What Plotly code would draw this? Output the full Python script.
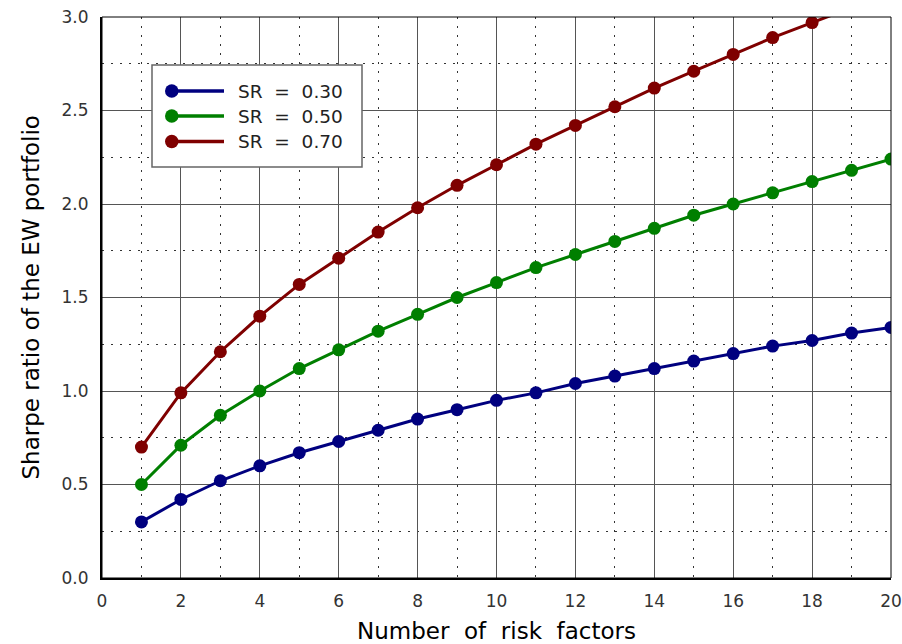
import plotly.graph_objects as go

# Number of risk factors held in the equal-weight portfolio
n_factors = list(range(1, 21))

# Sharpe ratio of the EW portfolio for each single-factor Sharpe ratio
sr_030 = [0.30, 0.42, 0.52, 0.60, 0.67, 0.73, 0.79, 0.85, 0.90, 0.95,
          0.99, 1.04, 1.08, 1.12, 1.16, 1.20, 1.24, 1.27, 1.31, 1.34]
sr_050 = [0.50, 0.71, 0.87, 1.00, 1.12, 1.22, 1.32, 1.41, 1.50, 1.58,
          1.66, 1.73, 1.80, 1.87, 1.94, 2.00, 2.06, 2.12, 2.18, 2.24]
sr_070 = [0.70, 0.99, 1.21, 1.40, 1.57, 1.71, 1.85, 1.98, 2.10, 2.21,
          2.32, 2.42, 2.52, 2.62, 2.71, 2.80, 2.89, 2.97, 3.05, 3.13]

series_names = ["SR = 0.30", "SR = 0.50", "SR = 0.70"]
series_values = [sr_030, sr_050, sr_070]
series_colors = ["#00007f", "#007f00", "#7f0000"]

FONT = "DejaVu Sans"
NBSP = "\u00a0"

# Plot-area geometry in pixels (used to place the hand-built legend)
W, H = 902, 644
ML, MR, MT, MB = 102, 11, 17, 66
PW, PH = W - ML - MR, H - MT - MB


def px_x(p):
    return (p - ML) / PW


def px_y(p):
    return (H - MB - p) / PH


fig = go.Figure()
for name, vals, col in zip(series_names, series_values, series_colors):
    fig.add_trace(go.Scatter(
        x=n_factors, y=vals, name=name, mode="lines+markers",
        line=dict(color=col, width=3),
        marker=dict(color=col, size=13),
        showlegend=False,
    ))

# Legend box with marker placed at the left end of each line sample
shapes = [
    dict(type="rect", xref="paper", yref="paper",
         x0=px_x(152), x1=px_x(362), y0=px_y(167), y1=px_y(65),
         fillcolor="white", line=dict(color="#666666", width=1.5),
         layer="above"),
]
annotations = []
row_y = [91, 116, 141.5]
for name, col, ry in zip(series_names, series_colors, row_y):
    shapes.append(dict(type="line", xref="paper", yref="paper",
                       x0=px_x(166), x1=px_x(224), y0=px_y(ry), y1=px_y(ry),
                       line=dict(color=col, width=3.5), layer="above"))
    shapes.append(dict(type="circle", xref="paper", yref="paper",
                       x0=px_x(165), x1=px_x(178.5),
                       y0=px_y(ry + 6.7), y1=px_y(ry - 6.7),
                       fillcolor=col, line=dict(color=col, width=0),
                       layer="above"))
    label = name.replace(" = ", NBSP * 2 + "=" + NBSP * 2)
    annotations.append(dict(text=label, xref="paper", yref="paper",
                            x=px_x(236), y=px_y(ry), xanchor="left",
                            yanchor="middle", showarrow=False,
                            font=dict(family=FONT, size=18.5, color="#222222")))

# Frame: thin top/right border
shapes.append(dict(type="rect", xref="paper", yref="paper", x0=0, y0=0,
                   x1=1, y1=1, line=dict(color="black", width=1),
                   layer="above"))

# Axis titles
annotations.append(dict(
    text="Number" + NBSP * 2 + "of" + NBSP * 2 + "risk" + NBSP * 2 + "factors",
    xref="paper", yref="paper", x=0.5, y=px_y(631),
    xanchor="center", yanchor="middle", showarrow=False,
    font=dict(family=FONT, size=23, color="black")))
annotations.append(dict(
    text="Sharpe ratio of the EW portfolio",
    xref="paper", yref="paper", x=px_x(30), y=0.5, textangle=-90,
    xanchor="center", yanchor="middle", showarrow=False,
    font=dict(family=FONT, size=23, color="black")))

grid_major = dict(showgrid=True, gridcolor="#555555", gridwidth=1)
minor_dots = dict(showgrid=True, gridcolor="#333333",
                  griddash="2px,7px", gridwidth=1)

fig.update_layout(
    width=W, height=H,
    margin=dict(l=ML, r=MR, t=MT, b=MB),
    paper_bgcolor="white", plot_bgcolor="white",
    font=dict(family=FONT, color="#222222"),
    showlegend=False,
    xaxis=dict(
        range=[0, 20], dtick=2, tick0=0, **grid_major,
        minor=dict(dtick=1, tick0=0, **minor_dots),
        showline=True, linecolor="black", linewidth=2,
        zeroline=False, ticks="", automargin=False,
        ticklabelstandoff=7,
        tickfont=dict(family=FONT, size=17, color="#333333"),
    ),
    yaxis=dict(
        range=[0, 3], dtick=0.5, tick0=0, tickformat=".1f", **grid_major,
        minor=dict(dtick=0.25, tick0=0, **minor_dots),
        showline=True, linecolor="black", linewidth=2,
        zeroline=False, ticks="", automargin=False,
        ticklabelstandoff=8,
        tickfont=dict(family=FONT, size=17, color="#333333"),
    ),
    shapes=shapes,
    annotations=annotations,
)

fig.write_html("out.html")
